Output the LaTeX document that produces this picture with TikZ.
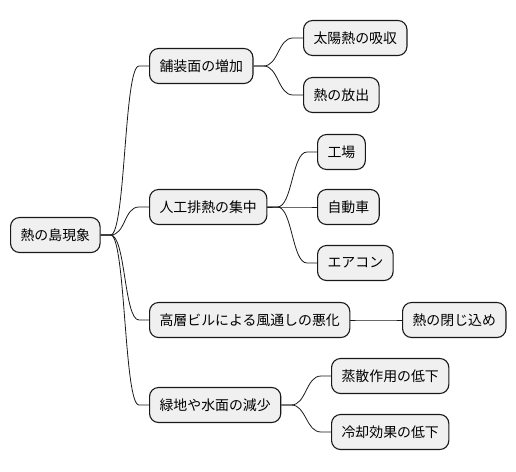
\documentclass[tikz,border=0pt]{standalone}
\usepackage{fontspec}
\newfontfamily\jpfont{Noto Sans CJK JP}
\begin{document}
\begin{tikzpicture}[x=1pt,y=-1pt,
  mm/.style={draw=black!90,fill=black!6,line width=1.1pt,rounded corners=9pt,
    minimum height=35pt,inner xsep=10pt,inner ysep=0pt,anchor=west,
    font=\jpfont\fontsize{13.9pt}{16pt}\selectfont},
  link/.style={draw=black!90,line width=0.8pt,
    to path={(\tikztostart) -- ++(10pt,0) .. controls +(15pt,0) and +(-15pt,0) .. ([xshift=-10pt]\tikztotarget) -- (\tikztotarget)}}]
\fill[white] (0,0) rectangle (516,471);
\useasboundingbox (0,0) rectangle (516,471);
\node[mm] (root) at (10,235) {熱の島現象};
\node[mm] (a) at (149,66) {舗装面の増加};
\node[mm] (a1) at (303,38) {太陽熱の吸収};
\node[mm] (a2) at (303,95) {熱の放出};
\node[mm] (b) at (149,207) {人工排熱の集中};
\node[mm] (b1) at (317,152) {工場};
\node[mm] (b2) at (317,207) {自動車};
\node[mm] (b3) at (317,263) {エアコン};
\node[mm] (c) at (149,320) {高層ビルによる風通しの悪化};
\node[mm] (c1) at (402,320) {熱の閉じ込め};
\node[mm] (d) at (149,405) {緑地や水面の減少};
\node[mm] (d1) at (331,376) {蒸散作用の低下};
\node[mm] (d2) at (331,432) {冷却効果の低下};
\foreach \p/\c in {root/a,root/b,root/c,root/d,a/a1,a/a2,b/b1,b/b2,b/b3,c/c1,d/d1,d/d2}
  \draw[link] (\p.east) to (\c.west);
\end{tikzpicture}
\end{document}
